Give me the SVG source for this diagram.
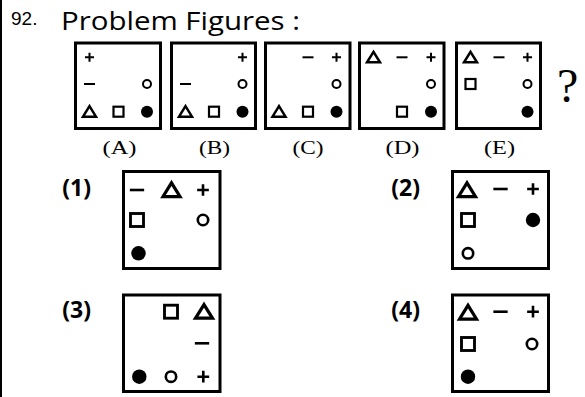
<svg xmlns="http://www.w3.org/2000/svg" xmlns:xlink="http://www.w3.org/1999/xlink" width="585" height="397" viewBox="0 0 585 397">
<style>
.box{fill:#fff;stroke:#000;stroke-width:3}
.ln{fill:none;stroke:#000;stroke-width:2}
.oc{fill:#fff;stroke:#000;stroke-width:2}
.dt{fill:#000}
.sq{fill:#fff;stroke:#000;stroke-width:2.2}
.tr{fill:#fff;stroke:#000;stroke-width:2.5;stroke-linejoin:miter}
.ttl{font-family:"Open Sans","Noto Sans",sans-serif;font-size:25px}
.num{font-family:"Liberation Sans",Arial,sans-serif;font-size:19px}
.lab{font-family:"Liberation Serif","Times New Roman",serif;font-size:19px;text-anchor:middle}
.opt{font-family:"Open Sans","Noto Sans",sans-serif;font-size:23px;font-weight:bold;text-anchor:end}
.q{font-family:"Liberation Serif","Times New Roman",serif;font-size:48px}
</style>
<defs>
<path id="p" class="ln" d="M-4.5,0H4.5M0,-4.5V4.5"/>
<path id="m" class="ln" d="M-5.5,0H5.5"/>
<circle id="o" class="oc" r="4"/>
<circle id="d" class="dt" r="6"/>
<rect id="s" class="sq" x="-5" y="-5" width="10" height="10"/>
<polygon id="t" class="tr" points="0,-5.5 6.5,5 -6.5,5"/>
</defs>
<rect x="0" y="0" width="585" height="397" fill="#fff"/>
<line x1="1" y1="0" x2="1" y2="397" stroke="#000" stroke-width="2"/>
<g id="title">
<text class="num" x="11" y="25">92.</text>
<text class="ttl" x="61" y="30" textLength="239" lengthAdjust="spacingAndGlyphs">Problem Figures :</text>
</g>
<g id="figA">
<rect class="box" x="75.5" y="43" width="85" height="85.5"/>
<use xlink:href="#p" x="89.5" y="57.3"/>
<use xlink:href="#m" x="89.5" y="84"/>
<use xlink:href="#o" x="147" y="84"/>
<use xlink:href="#t" x="89.5" y="111.7"/>
<use xlink:href="#s" x="118.5" y="111.7"/>
<use xlink:href="#d" x="147" y="111.7"/>
<text class="lab" x="119.5" y="154" textLength="34" lengthAdjust="spacingAndGlyphs">(A)</text>
</g>
<g id="figB">
<rect class="box" x="171.5" y="43" width="84" height="85.5"/>
<use xlink:href="#p" x="242.5" y="57.3"/>
<use xlink:href="#m" x="185.5" y="84"/>
<use xlink:href="#o" x="242.5" y="84"/>
<use xlink:href="#t" x="185.5" y="111.7"/>
<use xlink:href="#s" x="214" y="111.7"/>
<use xlink:href="#d" x="242.5" y="111.7"/>
<text class="lab" x="214.5" y="154" textLength="31" lengthAdjust="spacingAndGlyphs">(B)</text>
</g>
<g id="figC">
<rect class="box" x="265.5" y="43" width="84.5" height="85.5"/>
<use xlink:href="#m" x="308" y="57.3"/>
<use xlink:href="#p" x="336.5" y="57.3"/>
<use xlink:href="#o" x="336.5" y="84"/>
<use xlink:href="#t" x="279" y="111.7"/>
<use xlink:href="#s" x="308" y="111.7"/>
<use xlink:href="#d" x="336.5" y="111.7"/>
<text class="lab" x="308" y="154" textLength="31" lengthAdjust="spacingAndGlyphs">(C)</text>
</g>
<g id="figD">
<rect class="box" x="359.5" y="43" width="84.5" height="85.5"/>
<use xlink:href="#t" x="373.5" y="57.3"/>
<use xlink:href="#m" x="402" y="57.3"/>
<use xlink:href="#p" x="431" y="57.3"/>
<use xlink:href="#o" x="431" y="84"/>
<use xlink:href="#s" x="402" y="111.7"/>
<use xlink:href="#d" x="431" y="111.7"/>
<text class="lab" x="402.5" y="154" textLength="34" lengthAdjust="spacingAndGlyphs">(D)</text>
</g>
<g id="figE">
<rect class="box" x="456.5" y="43" width="84" height="85.5"/>
<use xlink:href="#t" x="470.5" y="57.3"/>
<use xlink:href="#m" x="499" y="57.3"/>
<use xlink:href="#p" x="527.5" y="57.3"/>
<use xlink:href="#s" x="470.5" y="84"/>
<use xlink:href="#o" x="527.5" y="84"/>
<use xlink:href="#d" x="527.5" y="111.7"/>
<text class="lab" x="499.5" y="154" textLength="31" lengthAdjust="spacingAndGlyphs">(E)</text>
</g>
<g id="qmark"><text class="q" x="557" y="102">?</text></g>
<g id="opt1">
<text class="opt" x="91" y="196">(1)</text>
<rect class="box" x="123.5" y="171.5" width="96.5" height="97"/>
<g transform="translate(137,190) scale(1.3)"><use xlink:href="#m"/></g>
<g transform="translate(171.5,190) scale(1.3)"><use xlink:href="#t"/></g>
<g transform="translate(203,190) scale(1.3)"><use xlink:href="#p"/></g>
<g transform="translate(137,220) scale(1.3)"><use xlink:href="#s"/></g>
<g transform="translate(203,220) scale(1.3)"><use xlink:href="#o"/></g>
<g transform="translate(138.5,253.3) scale(1.2)"><use xlink:href="#d"/></g>
</g>
<g id="opt2">
<text class="opt" x="420" y="196">(2)</text>
<rect class="box" x="452.5" y="171.5" width="96" height="97"/>
<g transform="translate(467,190) scale(1.3)"><use xlink:href="#t"/></g>
<g transform="translate(500.5,189) scale(1.3)"><use xlink:href="#m"/></g>
<g transform="translate(533,189) scale(1.3)"><use xlink:href="#p"/></g>
<g transform="translate(468,220) scale(1.3)"><use xlink:href="#s"/></g>
<g transform="translate(533,220) scale(1.2)"><use xlink:href="#d"/></g>
<g transform="translate(468,253.3) scale(1.3)"><use xlink:href="#o"/></g>
</g>
<g id="opt3">
<text class="opt" x="91" y="318">(3)</text>
<rect class="box" x="123.5" y="295" width="96.5" height="96.5"/>
<g transform="translate(171,311.7) scale(1.3)"><use xlink:href="#s"/></g>
<g transform="translate(204,311.7) scale(1.3)"><use xlink:href="#t"/></g>
<g transform="translate(202,343.3) scale(1.3)"><use xlink:href="#m"/></g>
<g transform="translate(139.3,376.7) scale(1.2)"><use xlink:href="#d"/></g>
<g transform="translate(171,376.7) scale(1.3)"><use xlink:href="#o"/></g>
<g transform="translate(203.3,376.7) scale(1.3)"><use xlink:href="#p"/></g>
</g>
<g id="opt4">
<text class="opt" x="420" y="318">(4)</text>
<rect class="box" x="452.5" y="295" width="96" height="96.5"/>
<g transform="translate(468,312.5) scale(1.3)"><use xlink:href="#t"/></g>
<g transform="translate(500.5,311.7) scale(1.3)"><use xlink:href="#m"/></g>
<g transform="translate(533,311.7) scale(1.3)"><use xlink:href="#p"/></g>
<g transform="translate(468,344) scale(1.3)"><use xlink:href="#s"/></g>
<g transform="translate(532,344) scale(1.3)"><use xlink:href="#o"/></g>
<g transform="translate(468,376.7) scale(1.2)"><use xlink:href="#d"/></g>
</g>
<g id="connectors"/>
</svg>
